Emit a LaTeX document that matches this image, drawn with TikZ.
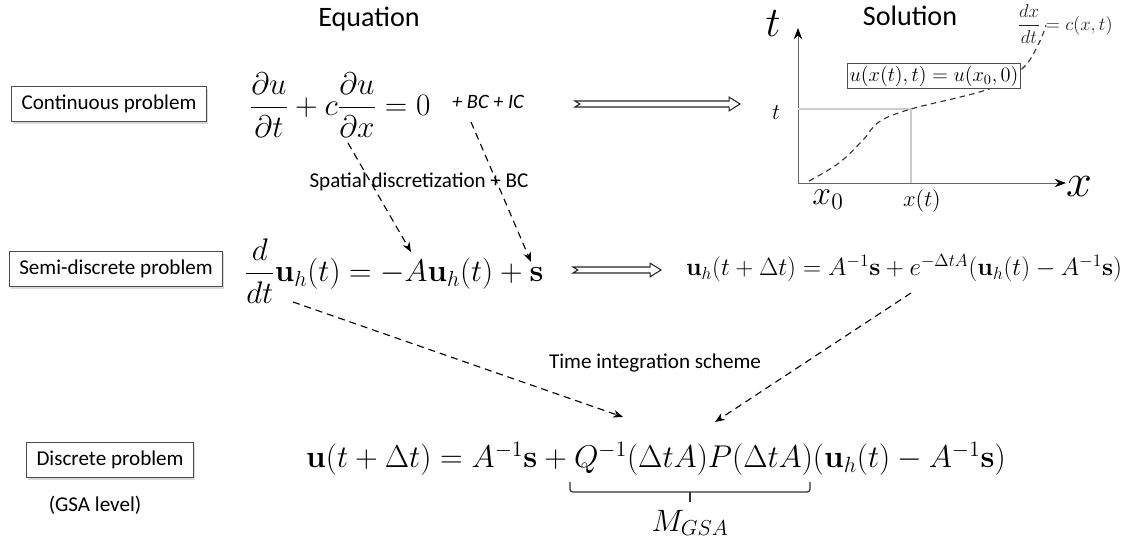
\RequirePackage{fix-cm}
\documentclass[tikz,border=0pt]{standalone}
\usepackage{amsmath}
\usepackage[no-math]{fontspec}
\setmainfont{Carlito}
\usetikzlibrary{arrows.meta,decorations.pathreplacing,positioning,shadows,calc}

\begin{document}
\begin{tikzpicture}[every node/.style={font=\fontsize{15}{18}\selectfont},
  probbox/.style={draw=black!70, fill=white, inner xsep=7pt, minimum height=0.87cm,
    drop shadow={shadow xshift=1pt, shadow yshift=-2pt, opacity=0.3}},
  link/.style={-{Stealth[length=7pt,width=5.5pt]}, dash pattern=on 5pt off 3.5pt, line width=0.8pt},
  hollow/.style={draw=black!85, line width=0.75pt, fill=white, line join=miter},
  guide/.style={black!20, line width=0.8pt},
  axis/.style={black!60, line width=0.6pt, -{Stealth[black,length=8pt,width=6pt]}},
  bigmath/.style={font=\fontsize{22.2}{26}\selectfont}]
  \useasboundingbox (0,0) rectangle (28.35,13.575);

  % column titles
  \node[font=\fontsize{20}{24}\selectfont] (eqtitle) at (9.225,13.1) {Equation};
  \node[font=\fontsize{20}{24}\selectfont] (soltitle) at (22.75,13.175) {Solution};

  % problem levels
  \node[probbox] (cont) at (2.725,10.975) {Continuous problem};
  \node[probbox] (semi) at (2.9,6.85) {Semi-discrete problem};
  \node[probbox] (disc) at (2.75,2.075) {Discrete problem};
  \node (gsa) at (2.375,0.95) {(GSA level)};

  % continuous problem
  \node[bigmath] (pde) at (8.5,10.95) {$\displaystyle\frac{\partial u}{\partial t}+c\frac{\partial u}{\partial x}=0$};
  \node[font=\itshape\fontsize{14.5}{17}\selectfont] (bcic) at (12.2,11.025) {+ BC + IC};

  % solution sketch
  \coordinate (O) at (19.95,9.0);
  \draw[axis] (O) -- (19.95,12.875);
  \draw[axis] (O) -- (26.65,9.0);
  \node[font=\fontsize{30}{34}\selectfont] (tax) at (19.325,12.98) {$t$};
  \node[font=\fontsize{33}{36}\selectfont] (xax) at (26.975,8.9) {$x$};
  \node[font=\fontsize{16}{19}\selectfont] (ttick) at (19.4,10.75) {$t$};
  \node[font=\fontsize{24}{28}\selectfont] (xzero) at (20.7,8.575) {$x_0$};
  \node[font=\fontsize{16}{19}\selectfont] (xt) at (23.05,8.55) {$x(t)$};
  \draw[guide] (19.95,10.85) -- (22.775,10.85) -- (22.775,9.0);
  % characteristic curve
  \draw[dash pattern=on 4pt off 3pt, line width=0.8pt, black!80] plot[smooth, tension=0.6] coordinates
    {(20.225,9.05) (20.975,9.5) (21.575,10.075) (21.975,10.525) (22.775,10.85) (24.725,11.35) (25.575,11.875) (25.975,12.5) (26.15,12.95)};
  \node[draw=black!70, fill=white, inner sep=1.5pt, font=\fontsize{14.5}{17}\selectfont] (charbox) at (23.35,11.675) {$u(x(t),t)=u(x_0,0)$};
  \node[font=\fontsize{13.3}{16}\selectfont, text=black!85] (charode) at (26.625,12.975) {$\displaystyle\frac{dx}{dt}=c(x,t)$};

  % semi-discrete problem
  \node[bigmath] (ode) at (9.85,6.8) {$\displaystyle\frac{d}{dt}\mathbf{u}_h(t)=-A\mathbf{u}_h(t)+\mathbf{s}$};
  \node[font=\fontsize{17.8}{21}\selectfont] (odesol) at (22.6,6.875) {$\mathbf{u}_h(t+\Delta t)=A^{-1}\mathbf{s}+e^{-\Delta tA}(\mathbf{u}_h(t)-A^{-1}\mathbf{s})$};

  % discrete problem
  \node[font=\fontsize{22.4}{26}\selectfont] (gsaeq) at (16.4,2.1) {$\mathbf{u}(t+\Delta t)=A^{-1}\mathbf{s}+Q^{-1}(\Delta tA)P(\Delta tA)(\mathbf{u}_h(t)-A^{-1}\mathbf{s})$};
  \coordinate (brl) at (14.25,1.525);
  \coordinate (brr) at (20.25,1.525);
  \coordinate (brtip) at (17.25,1.025);
  \draw[line width=0.9pt, black!80, rounded corners=2pt] (brl) |- ($(brtip)+(0,0.25)$) -| (brr);
  \draw[line width=0.9pt, black!80] ($(brtip)+(0,0.25)$) -- (brtip);
  \node[font=\fontsize{22}{26}\selectfont] (mgsa) at (17.25,0.5) {$M_{GSA}$};

  % hollow arrows between equation and solution
  \coordinate (r1a) at (14.375,10.975);
  \coordinate (r1b) at (18.5,10.975);
  \coordinate (r2a) at (14.325,6.825);
  \coordinate (r2b) at (16.525,6.825);
  \foreach \a/\b in {r1a/r1b, r2a/r2b}{
    \draw[hollow] ($(\a)+(0,0.075)$) -- ($(\b)+(-0.27,0.075)$) -- ($(\b)+(-0.27,0.17)$) -- (\b)
      -- ($(\b)+(-0.27,-0.17)$) -- ($(\b)+(-0.27,-0.075)$) -- ($(\a)+(0,-0.075)$) -- ($(\a)+(0.12,0)$) -- cycle;
  }

  % discretization links
  \coordinate (dxfoot) at (8.7,10.0);
  \coordinate (Ahead) at (10.275,7.275);
  \coordinate (bcfoot) at (11.775,10.525);
  \coordinate (shead) at (13.275,7.025);
  \coordinate (ddtfoot) at (7.325,6.025);
  \coordinate (Qhead) at (15.575,3.15);
  \coordinate (expfoot) at (22.775,6.25);
  \coordinate (Phead) at (17.875,3.025);
  \draw[link] (dxfoot) -- (Ahead);
  \draw[link] (bcfoot) -- (shead);
  \draw[link] (ddtfoot) -- (Qhead);
  \draw[link] (expfoot) -- (Phead);
  \node (spatial) at (10.475,9.025) {Spatial discretization + BC};
  \node (timeint) at (16.375,4.5) {Time integration scheme};
\end{tikzpicture}
\end{document}
